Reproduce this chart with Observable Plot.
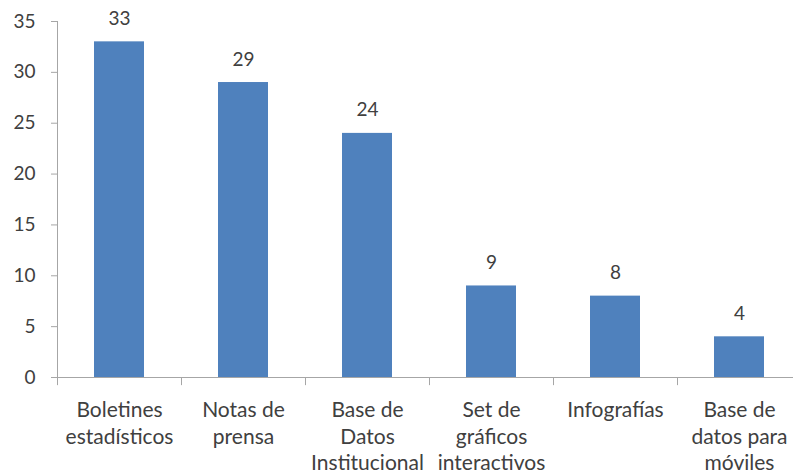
<!DOCTYPE html>
<html>
<head>
<meta charset="utf-8">
<script src="https://cdn.jsdelivr.net/npm/d3@7"></script>
<script src="https://cdn.jsdelivr.net/npm/@observablehq/plot@0.6"></script>
<style>
  html, body { margin: 0; padding: 0; background: #fff; }
  svg { display: block; }
</style>
</head>
<body>
<div id="chart"></div>
<script>
const categories = [
  "Boletines\nestadísticos",
  "Notas de\nprensa",
  "Base de\nDatos\nInstitucional",
  "Set de\ngráficos\ninteractivos",
  "Infografías",
  "Base de\ndatos para\nmóviles"
];
const values = [33, 29, 24, 9, 8, 4];
const yTicks = [0, 5, 10, 15, 20, 25, 30, 35];

const data = categories.map((c, i) => ({category: c, value: values[i]}));

const W = 793, H = 475;
const xRange = [57, 801];
const step = (xRange[1] - xRange[0]) / categories.length;
const font = "Lato, 'Open Sans', sans-serif";
const textColor = "#404040";
const axisColor = "#a6a6a6";

const chart = Plot.plot({
  width: W,
  height: H,
  marginLeft: 57,
  marginRight: 0,
  marginTop: 21,
  marginBottom: 98,
  style: {fontFamily: font, background: "#fff"},
  x: {domain: categories, range: xRange, paddingInner: 0.6, paddingOuter: 0.3, align: 0.5},
  y: {domain: [0, 35], range: [377, 21]},
  marks: [
    Plot.barY(data, {x: "category", y: "value", fill: "#4F81BD"}),
    // y axis
    Plot.axisY({ticks: yTicks, tickSize: 6, tickPadding: 16, fontSize: 19, color: textColor, stroke: axisColor, tickFormat: d => String(d), label: null}),
    Plot.frame({anchor: "left", stroke: axisColor}),
    // x axis line
    Plot.ruleY([0], {stroke: axisColor}),
    // x boundary ticks
    Plot.ruleX(categories, {x: d => d, dx: -step / 2, y1: 0, y2: -0.8, stroke: axisColor}),
    Plot.axisX({tickSize: 0, tickPadding: 21, fontSize: 21, lineHeight: 1.26, color: textColor, label: null}),
    // value labels
    Plot.text(data, {x: "category", y: "value", text: d => String(d.value), dy: -23, fontSize: 19, fill: textColor})
  ]
});

document.getElementById("chart").appendChild(chart);
</script>
</body>
</html>
